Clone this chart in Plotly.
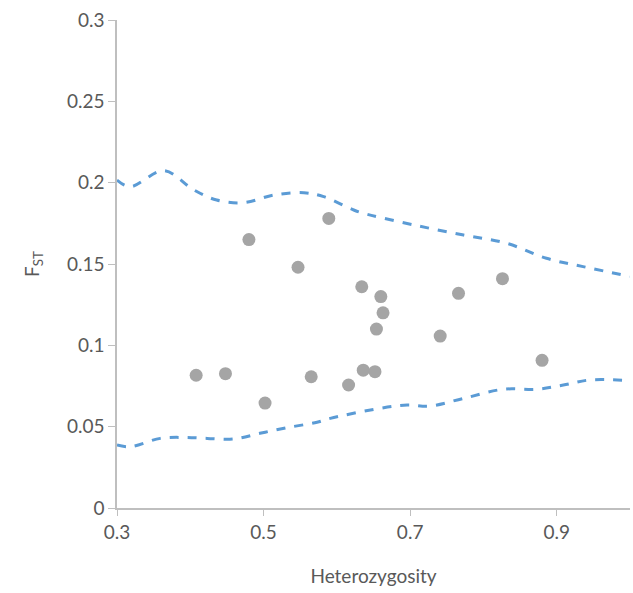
import plotly.graph_objects as go

het = [0.589, 0.480, 0.547, 0.634, 0.660, 0.663, 0.654, 0.408, 0.448, 0.502,
       0.565, 0.616, 0.636, 0.652, 0.766, 0.826, 0.741, 0.880]
fst = [0.178, 0.165, 0.148, 0.136, 0.130, 0.120, 0.110, 0.0816, 0.0826, 0.0645,
       0.0807, 0.0756, 0.0847, 0.0838, 0.132, 0.141, 0.1057, 0.0908]

upper_x = [0.300, 0.318, 0.364, 0.405, 0.436, 0.473, 0.514, 0.555, 0.582, 0.623,
           0.636, 0.705, 0.773, 0.832, 0.886, 0.936, 1.000]
upper_y = [0.2016, 0.1975, 0.2074, 0.1955, 0.1893, 0.1877, 0.1924, 0.1938, 0.1914,
           0.1832, 0.1812, 0.1740, 0.1678, 0.1627, 0.1535, 0.1484, 0.1424]

lower_x = [0.300, 0.318, 0.359, 0.391, 0.423, 0.459, 0.495, 0.532, 0.573, 0.591,
           0.659, 0.696, 0.727, 0.773, 0.827, 0.873, 0.909, 0.945, 1.000]
lower_y = [0.0387, 0.0377, 0.0428, 0.0434, 0.0428, 0.0424, 0.0459, 0.0494, 0.0527,
           0.0551, 0.0613, 0.0633, 0.0627, 0.0674, 0.0730, 0.0730, 0.0756, 0.0787, 0.0783]

x_ticks = [0.3, 0.5, 0.7, 0.9]
y_ticks = [0, 0.05, 0.1, 0.15, 0.2, 0.25, 0.3]

fig = go.Figure()
for xs, ys in [(upper_x, upper_y), (lower_x, lower_y)]:
    fig.add_trace(go.Scatter(x=xs, y=ys, mode="lines", line_shape="spline",
                             line=dict(color="#5B9BD5", width=3, dash="dash"),
                             showlegend=False, hoverinfo="skip", cliponaxis=True))
fig.add_trace(go.Scatter(x=het, y=fst, mode="markers",
                         marker=dict(color="#A5A5A5", size=13),
                         showlegend=False))

font = dict(family="Lato, Open Sans, sans-serif", size=19, color="#595959")
fig.update_layout(
    width=633, height=593,
    margin=dict(l=117, r=3, t=20, b=85),
    paper_bgcolor="white", plot_bgcolor="white",
    font=font,
    xaxis=dict(range=[0.3, 1.0], tickvals=x_ticks, ticktext=[str(v) for v in x_ticks],
               showgrid=False, zeroline=False, showline=True, linecolor="#BFBFBF",
               linewidth=1.5, ticks="outside", tickcolor="#BFBFBF", ticklen=6,
               title=dict(text="Heterozygosity", standoff=28, font=font),
               tickfont=font),
    yaxis=dict(range=[0, 0.3], tickvals=y_ticks, ticktext=[str(v) for v in y_ticks],
               showgrid=False, zeroline=False, showline=True, linecolor="#BFBFBF",
               linewidth=1.5, ticks="outside", tickcolor="#BFBFBF", ticklen=7,
               title=dict(text="F<sub>ST</sub>", standoff=22, font=font),
               tickfont=font),
)
fig.write_html("out.html")
